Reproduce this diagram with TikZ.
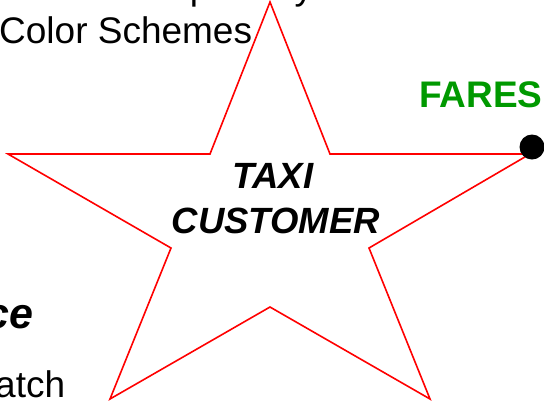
\documentclass[tikz,border=0pt]{standalone}
\usepackage{fontspec}
\setmainfont{Liberation Sans}
\usepackage{tikz}
\usetikzlibrary{positioning}
\usepackage{xcolor}
\definecolor{faregreen}{RGB}{0,153,0}

\begin{document}
\begin{tikzpicture}[x=1bp,y=-1bp,
  starline/.style={draw=red,line width=1.6bp,line join=miter},
  body/.style={inner sep=0pt,font=\fontsize{37bp}{44bp}\selectfont},
  starlabel/.style={inner sep=0pt,font=\fontsize{36.5bp}{44bp}\selectfont\bfseries\itshape}]
\useasboundingbox (0,0) rectangle (544,402);
% slide text running behind the star
\node[body,anchor=base west] (line0) at (-14,-1) {Its hues are primary colors and shades};
\node[body,anchor=base west] (schemes) at (-1,43) {Color Schemes};
\node[inner sep=0pt,anchor=base east,font=\fontsize{43bp}{50bp}\selectfont\bfseries\itshape] (head) at (34,328) {ce};
\node[body,anchor=base west] (match) at (-5,397) {atch};
% the star
\draw[starline] (270,2) -- (330,154) -- (530,154) -- (369,248) -- (430,399) -- (270,307)
  -- (110,399) -- (171,248) -- (8,154) -- (210,154) -- cycle;
\node[starlabel,anchor=base] (taxi) at (273,188) {TAXI};
\node[starlabel,anchor=base] (customer) at (276,233) {CUSTOMER};
% fare point on the right tip
\node[circle,fill=black,inner sep=0pt,minimum size=25bp] (fare) at (532,147) {};
\node[inner sep=0pt,anchor=base west,text=faregreen,font=\fontsize{37bp}{44bp}\selectfont\bfseries] (fares) at (419,107) {FARES};
\end{tikzpicture}
\end{document}
